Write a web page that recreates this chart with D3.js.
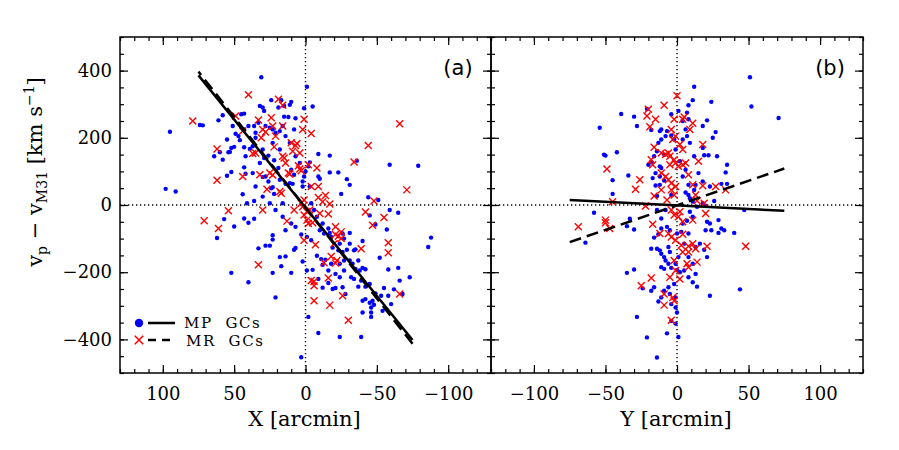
<!DOCTYPE html>
<html><head><meta charset="utf-8">
<script src="https://cdn.jsdelivr.net/npm/d3@7"></script>
<style>body{margin:0;background:#fff}</style>
</head><body><svg id="c" width="899" height="450"></svg>
<script>
// Panel (a): [X arcmin, v km/s]
const mpA = [[31,380],[-1,352],[95,218],[98,48],[91,40],[74,238],[72,237],[61,252],[58,267],[45,270],[43,272],[64,145],[60,157],[54,157],[53,158],[52,170],[50,173],[49,212],[47,205],[46,193],[43,172],[42,145],[55,87],[52,98],[44,32],[41,5],[36,12],[43,-40],[36,-41],[40,-53],[57,-42],[50,-64],[62,-98],[52,-202],[40,-230],[33,-129],[28,-121],[25,-121],[23,-90],[23,-103],[18,-155],[14,-153],[17,-182],[23,-202],[10,-202],[21,-275],[43,112],[42,93],[39,167],[37,175],[35,200],[35,215],[36,235],[33,245],[30,290],[29,280],[24,312],[19,290],[17,312],[15,263],[12,262],[11,298],[10,307],[7,258],[1,288],[-5,293],[28,235],[25,230],[23,225],[21,215],[18,220],[16,235],[14,205],[29,140],[26,147],[22,133],[19,110],[30,83],[28,85],[26,70],[24,50],[23,53],[22,33],[18,75],[14,63],[11,65],[9,63],[8,90],[2,70],[1,85],[2,55],[0,100],[-2,115],[-3,127],[-9,152],[-17,147],[-9,85],[-10,78],[-17,97],[-23,97],[-25,33],[-29,77],[-31,60],[-36,132],[-44,23],[-51,15],[-59,120],[-79,117],[-65,-23],[-59,-15],[-45,-31],[-49,-58],[-88,-97],[-86,-125],[-57,-73],[-52,-157],[-58,-192],[-65,-187],[-73,-215],[-40,-107],[-35,-132],[-31,-83],[-27,-100],[-10,-75],[-13,-85],[-17,-83],[3,-88],[-1,-95],[-4,-105],[7,-128],[8,-133],[2,-168],[-1,-195],[-8,-151],[-11,-161],[-12,-178],[-14,-163],[-19,-127],[-23,-135],[-26,-140],[-29,-133],[-27,-165],[-31,-165],[-33,-175],[-35,-190],[-38,-195],[-40,-187],[-42,-191],[-12,-246],[-16,-232],[-19,-250],[-21,-247],[-24,-215],[-26,-245],[-28,-265],[-32,-215],[-34,-220],[-37,-243],[-39,-225],[-42,-243],[-45,-235],[-40,-285],[-42,-280],[-45,-291],[-47,-285],[-48,-297],[-46,-305],[-49,-263],[-53,-270],[-55,-247],[-58,-270],[-62,-251],[-40,-320],[-46,-320],[-46,-333],[-2,-333],[-9,-381],[-24,-393],[-39,-393],[3,-453],[-5,-193],[-9,-220],[-3,55],[-4,5],[-6,-15],[-8,-35],[-12,-55],[-16,-70],[-18,-95],[-24,-115],[-26,-85],[-31,-115],[-34,-135],[-37,-165],[-24,-175],[-27,-195],[-21,-205],[-18,-175],[-16,-195],[7,-65],[10,-55],[14,-75],[16,-35],[21,-15],[25,5],[30,25],[35,55],[37,95],[32,125],[30,165],[23,185],[18,165],[11,185],[8,225],[7,145],[4,125],[10,105],[16,5],[43,225],[40,235],[51,235],[32,295],[15,295],[55,195],[58,135],[-66,-225],[-68,-265],[-60,-295],[-54,-315]];
const mrA = [[79,250],[62,167],[62,74],[71,-47],[61,-70],[54,-17],[49,265],[44,220],[44,85],[40,328],[37,153],[35,155],[33,253],[33,-178],[32,90],[30,-15],[31,200],[30,225],[28,217],[27,47],[25,95],[24,260],[23,235],[23,89],[22,173],[21,205],[19,315],[18,40],[17,35],[16,297],[16,235],[16,145],[15,140],[14,125],[12,95],[13,-48],[11,92],[10,185],[9,160],[8,-15],[7,177],[6,183],[5,117],[4,107],[4,155],[3,102],[2,225],[1,255],[1,-30],[-1,-45],[1,-105],[-2,-55],[-2,120],[-4,213],[-4,55],[-5,-53],[-4,-225],[-6,-228],[-6,-240],[-6,-285],[-7,-118],[-8,110],[-9,22],[-9,55],[-10,-25],[-12,10],[-14,28],[-16,-27],[-17,3],[-13,-172],[-16,-217],[-17,-298],[-18,-153],[-20,-115],[-21,-65],[-21,-88],[-22,-165],[-23,-93],[-25,-100],[-25,-80],[-26,-270],[-30,-343],[-34,128],[-39,-130],[-42,-21],[-44,177],[-47,-60],[-48,12],[-55,-37],[-58,-112],[-58,-142],[-66,242],[-66,-265],[-71,45],[3,5],[2,-5],[1,15],[-1,-20],[-3,-15],[-21,-173]];
// Panel (b): [Y arcmin, v km/s]
const mpB = [[51,380],[52,293],[71,259],[12,352],[11,312],[8,297],[24,307],[21,252],[18,235],[27,217],[25,200],[18,170],[28,145],[19,148],[22,148],[35,120],[34,97],[35,63],[26,12],[31,63],[23,55],[40,-83],[47,-15],[44,-251],[23,-270],[14,-243],[21,-155],[29,-83],[31,-70],[33,-75],[29,-45],[23,-55],[24,-75],[-39,271],[-30,263],[-28,235],[-54,230],[-51,150],[-50,147],[-42,157],[-45,74],[-45,33],[-34,88],[-58,-23],[-64,-112],[-35,-63],[-30,-73],[-33,-41],[-35,-202],[-30,-192],[-28,-333],[-21,-394],[-14,-454],[-7,-382],[1,-393],[-24,-248],[-18,-255],[-13,-287],[-21,286],[-18,223],[-12,220],[-11,225],[-7,220],[-4,270],[1,280],[4,250],[6,225],[7,205],[4,195],[-13,185],[-14,160],[-9,150],[-16,145],[-18,128],[-12,115],[-11,110],[-12,85],[-9,73],[-17,80],[-15,58],[-12,60],[-14,27],[-4,30],[6,37],[8,30],[9,20],[11,10],[14,-5],[18,5],[20,-2],[9,-20],[11,-35],[7,-47],[4,-55],[8,-85],[0,-85],[-5,-75],[-7,-65],[-11,-70],[-13,-87],[-16,-97],[-18,-130],[-14,-130],[-12,-135],[-11,-145],[-9,-155],[-6,-125],[-5,-140],[-8,-165],[-11,-185],[-9,-190],[-6,-175],[-4,-187],[0,-193],[2,-200],[5,-195],[8,-215],[11,-230],[-2,-235],[-6,-245],[-9,-255],[-5,-265],[-1,-275],[-4,-295],[-1,-305],[0,-320],[-4,-345],[-1,-353],[-11,-275],[-16,-245],[13,-125],[19,-133],[16,-115],[8,-155],[1,-155],[-1,-175],[3,-80],[5,-115],[11,-175],[13,-205],[12,45],[13,60],[8,60],[4,85],[6,105],[2,130],[-1,165],[-2,195],[-4,207],[-8,205],[-11,195],[20,-75],[21,-50],[7,275],[8,255],[9,185],[12,145],[15,95],[18,70],[-15,95],[-20,120],[-14,-15],[-8,-15],[-11,-40]];
const mrB = [[0,325],[-9,297],[-20,285],[-21,265],[-15,255],[-19,233],[4,255],[5,262],[-2,255],[11,243],[9,225],[-4,225],[-1,205],[-3,195],[2,180],[4,165],[-16,172],[18,180],[15,130],[-18,135],[-17,120],[-11,155],[-8,150],[-6,155],[-5,145],[-2,135],[-5,120],[-1,125],[1,115],[4,120],[6,125],[-11,95],[-8,85],[-6,75],[-4,65],[-1,55],[-4,45],[-2,30],[-11,45],[8,90],[11,60],[18,57],[27,55],[34,45],[13,30],[14,13],[19,5],[20,-25],[11,-45],[2,-20],[1,-35],[4,-50],[-2,-30],[-4,-15],[-7,15],[-16,27],[-22,-3],[-26,75],[-29,47],[-45,10],[-49,107],[-50,-45],[-50,-53],[-47,-70],[-69,-65],[-17,-57],[-12,-85],[-6,-85],[-4,-95],[-1,-105],[4,-87],[3,-120],[8,-123],[11,-115],[13,-130],[21,-123],[48,-123],[8,-140],[4,-140],[-2,-165],[7,-175],[8,-185],[14,-170],[-1,-195],[-5,-215],[2,-220],[-18,-217],[-25,-240],[-9,-265],[-3,-275],[-2,-285],[-9,-298],[-4,-343]];
// Linear fits: [slope, intercept]
const fitA_MP = [5.25, -8], fitA_MR = [5.4, -8];
const fitB_MP = [-0.215, -1], fitB_MR = [1.46, -1];
const fitRange = [-75, 75];
const posMajorTicks = [-100, -50, 0, 50, 100];
const posMinorTicks = d3.range(-130, 131, 10);
const vMajorTicks = [-400, -200, 0, 200, 400];
const vMinorTicks = d3.range(-500, 501, 50);
const legendLabels = ["MP\u00a0\u00a0GCs", "MR\u00a0\u00a0GCs"];

const svg = d3.select("#c");
svg.append("rect").attr("width", 899).attr("height", 450).attr("fill", "#fff");
const TOP = 37, BOT = 373;
const SERIF = "'DejaVu Serif', serif";
const y = d3.scaleLinear().domain([-500, 500]).range([BOT, TOP]);

const panels = [
  {x0: 120, x1: 491, domain: [130, -130], mp: mpA, mr: mrA, fmp: fitA_MP, fmr: fitA_MR, label: "(a)", title: "X [arcmin]", yLabels: true},
  {x0: 491, x1: 863, domain: [-130, 130], mp: mpB, mr: mrB, fmp: fitB_MP, fmr: fitB_MR, label: "(b)", title: "Y [arcmin]", yLabels: false}
];
const crossPath = "M-3.5,-3.5L3.5,3.5M-3.5,3.5L3.5,-3.5";

panels.forEach(p => {
  const x = d3.scaleLinear().domain(p.domain).range([p.x0, p.x1]);
  const g = svg.append("g");
  g.append("line").attr("x1", x(0)).attr("x2", x(0)).attr("y1", TOP).attr("y2", BOT)
    .attr("stroke", "#000").attr("stroke-width", 1.4).attr("stroke-dasharray", "1.3,2.7");
  g.append("line").attr("x1", p.x0).attr("x2", p.x1).attr("y1", y(0)).attr("y2", y(0))
    .attr("stroke", "#000").attr("stroke-width", 1.4).attr("stroke-dasharray", "1.3,2.7");
  g.append("g").selectAll("circle").data(p.mp).join("circle")
    .attr("cx", d => x(d[0])).attr("cy", d => y(d[1])).attr("r", 2.2).attr("fill", "#0000ff");
  g.append("g").selectAll("path").data(p.mr).join("path")
    .attr("d", crossPath).attr("transform", d => `translate(${x(d[0])},${y(d[1])})`)
    .attr("stroke", "#ff0000").attr("stroke-width", 1.4).attr("fill", "none");
  const line = f => d3.line().x(d => x(d)).y(d => y(f[0] * d + f[1]));
  g.append("path").attr("d", line(p.fmr)(fitRange)).attr("stroke", "#000").attr("stroke-width", 2.5)
    .attr("fill", "none").attr("stroke-dasharray", "12,6");
  g.append("path").attr("d", line(p.fmp)(fitRange)).attr("stroke", "#000").attr("stroke-width", 2.5).attr("fill", "none");
  g.append("rect").attr("x", p.x0).attr("y", TOP).attr("width", p.x1 - p.x0).attr("height", BOT - TOP)
    .attr("fill", "none").attr("stroke", "#000").attr("stroke-width", 1.5);
  const axes = [
    [d3.axisBottom(x).tickValues(posMinorTicks).tickSize(-4).tickFormat(""), `translate(0,${BOT})`],
    [d3.axisBottom(x).tickValues(posMajorTicks).tickSize(-8).tickPadding(14).tickFormat(d3.format("d")), `translate(0,${BOT})`],
    [d3.axisTop(x).tickValues(posMinorTicks).tickSize(-4).tickFormat(""), `translate(0,${TOP})`],
    [d3.axisTop(x).tickValues(posMajorTicks).tickSize(-8).tickFormat(""), `translate(0,${TOP})`],
    [d3.axisLeft(y).tickValues(vMinorTicks).tickSize(-4).tickFormat(""), `translate(${p.x0},0)`],
    [d3.axisLeft(y).tickValues(vMajorTicks).tickSize(-8).tickPadding(8).tickFormat(p.yLabels ? d3.format("d") : ""), `translate(${p.x0},0)`],
    [d3.axisRight(y).tickValues(vMinorTicks).tickSize(-4).tickFormat(""), `translate(${p.x1},0)`],
    [d3.axisRight(y).tickValues(vMajorTicks).tickSize(-8).tickFormat(""), `translate(${p.x1},0)`]
  ];
  axes.forEach(([ax, tr]) => {
    const a = g.append("g").attr("transform", tr).call(ax);
    a.select(".domain").remove();
    a.selectAll("line").attr("stroke", "#000").attr("stroke-width", 1.2);
    a.selectAll("text").attr("font-family", SERIF).attr("font-size", 18).attr("fill", "#000");
  });
  svg.append("text").attr("x", (p.x0 + p.x1) / 2 - 1).attr("y", 426).attr("text-anchor", "middle")
    .attr("font-family", SERIF).attr("font-size", 21).text(p.title);
  svg.append("text").attr("x", p.x1 - 33).attr("y", 75).attr("text-anchor", "middle")
    .attr("font-family", "'DejaVu Sans', sans-serif").attr("font-size", 21).text(p.label);
});

const yt = svg.append("text").attr("transform", "translate(42,172) rotate(-90)")
  .attr("text-anchor", "middle").attr("font-family", SERIF).attr("font-size", 21);
yt.append("tspan").text("v");
yt.append("tspan").attr("font-size", 14).attr("dy", 5).text("p");
yt.append("tspan").attr("dy", -5).text(" \u2212 v");
yt.append("tspan").attr("font-size", 14).attr("dy", 5).text("M31");
yt.append("tspan").attr("dy", -5).text(" [km s");
yt.append("tspan").attr("font-size", 14).attr("dy", -8).text("\u22121");
yt.append("tspan").attr("dy", 8).text("]");

const lg = svg.append("g");
lg.append("circle").attr("cx", 139).attr("cy", 323).attr("r", 4.2).attr("fill", "#0000ff");
lg.append("line").attr("x1", 148).attr("x2", 175).attr("y1", 323).attr("y2", 323).attr("stroke", "#000").attr("stroke-width", 2.5);
lg.append("path").attr("d", crossPath).attr("transform", "translate(139,340) scale(1.2)")
  .attr("stroke", "#ff0000").attr("stroke-width", 1.3).attr("fill", "none");
lg.append("line").attr("x1", 148).attr("x2", 175).attr("y1", 340).attr("y2", 340).attr("stroke", "#000")
  .attr("stroke-width", 2.5).attr("stroke-dasharray", "8,6");
lg.append("text").attr("x", 184).attr("y", 328).attr("font-family", SERIF).attr("font-size", 15)
  .attr("letter-spacing", 1.6).text(legendLabels[0]);
lg.append("text").attr("x", 186).attr("y", 346).attr("font-family", SERIF).attr("font-size", 15)
  .attr("letter-spacing", 1.6).text(legendLabels[1]);
</script></body></html>
